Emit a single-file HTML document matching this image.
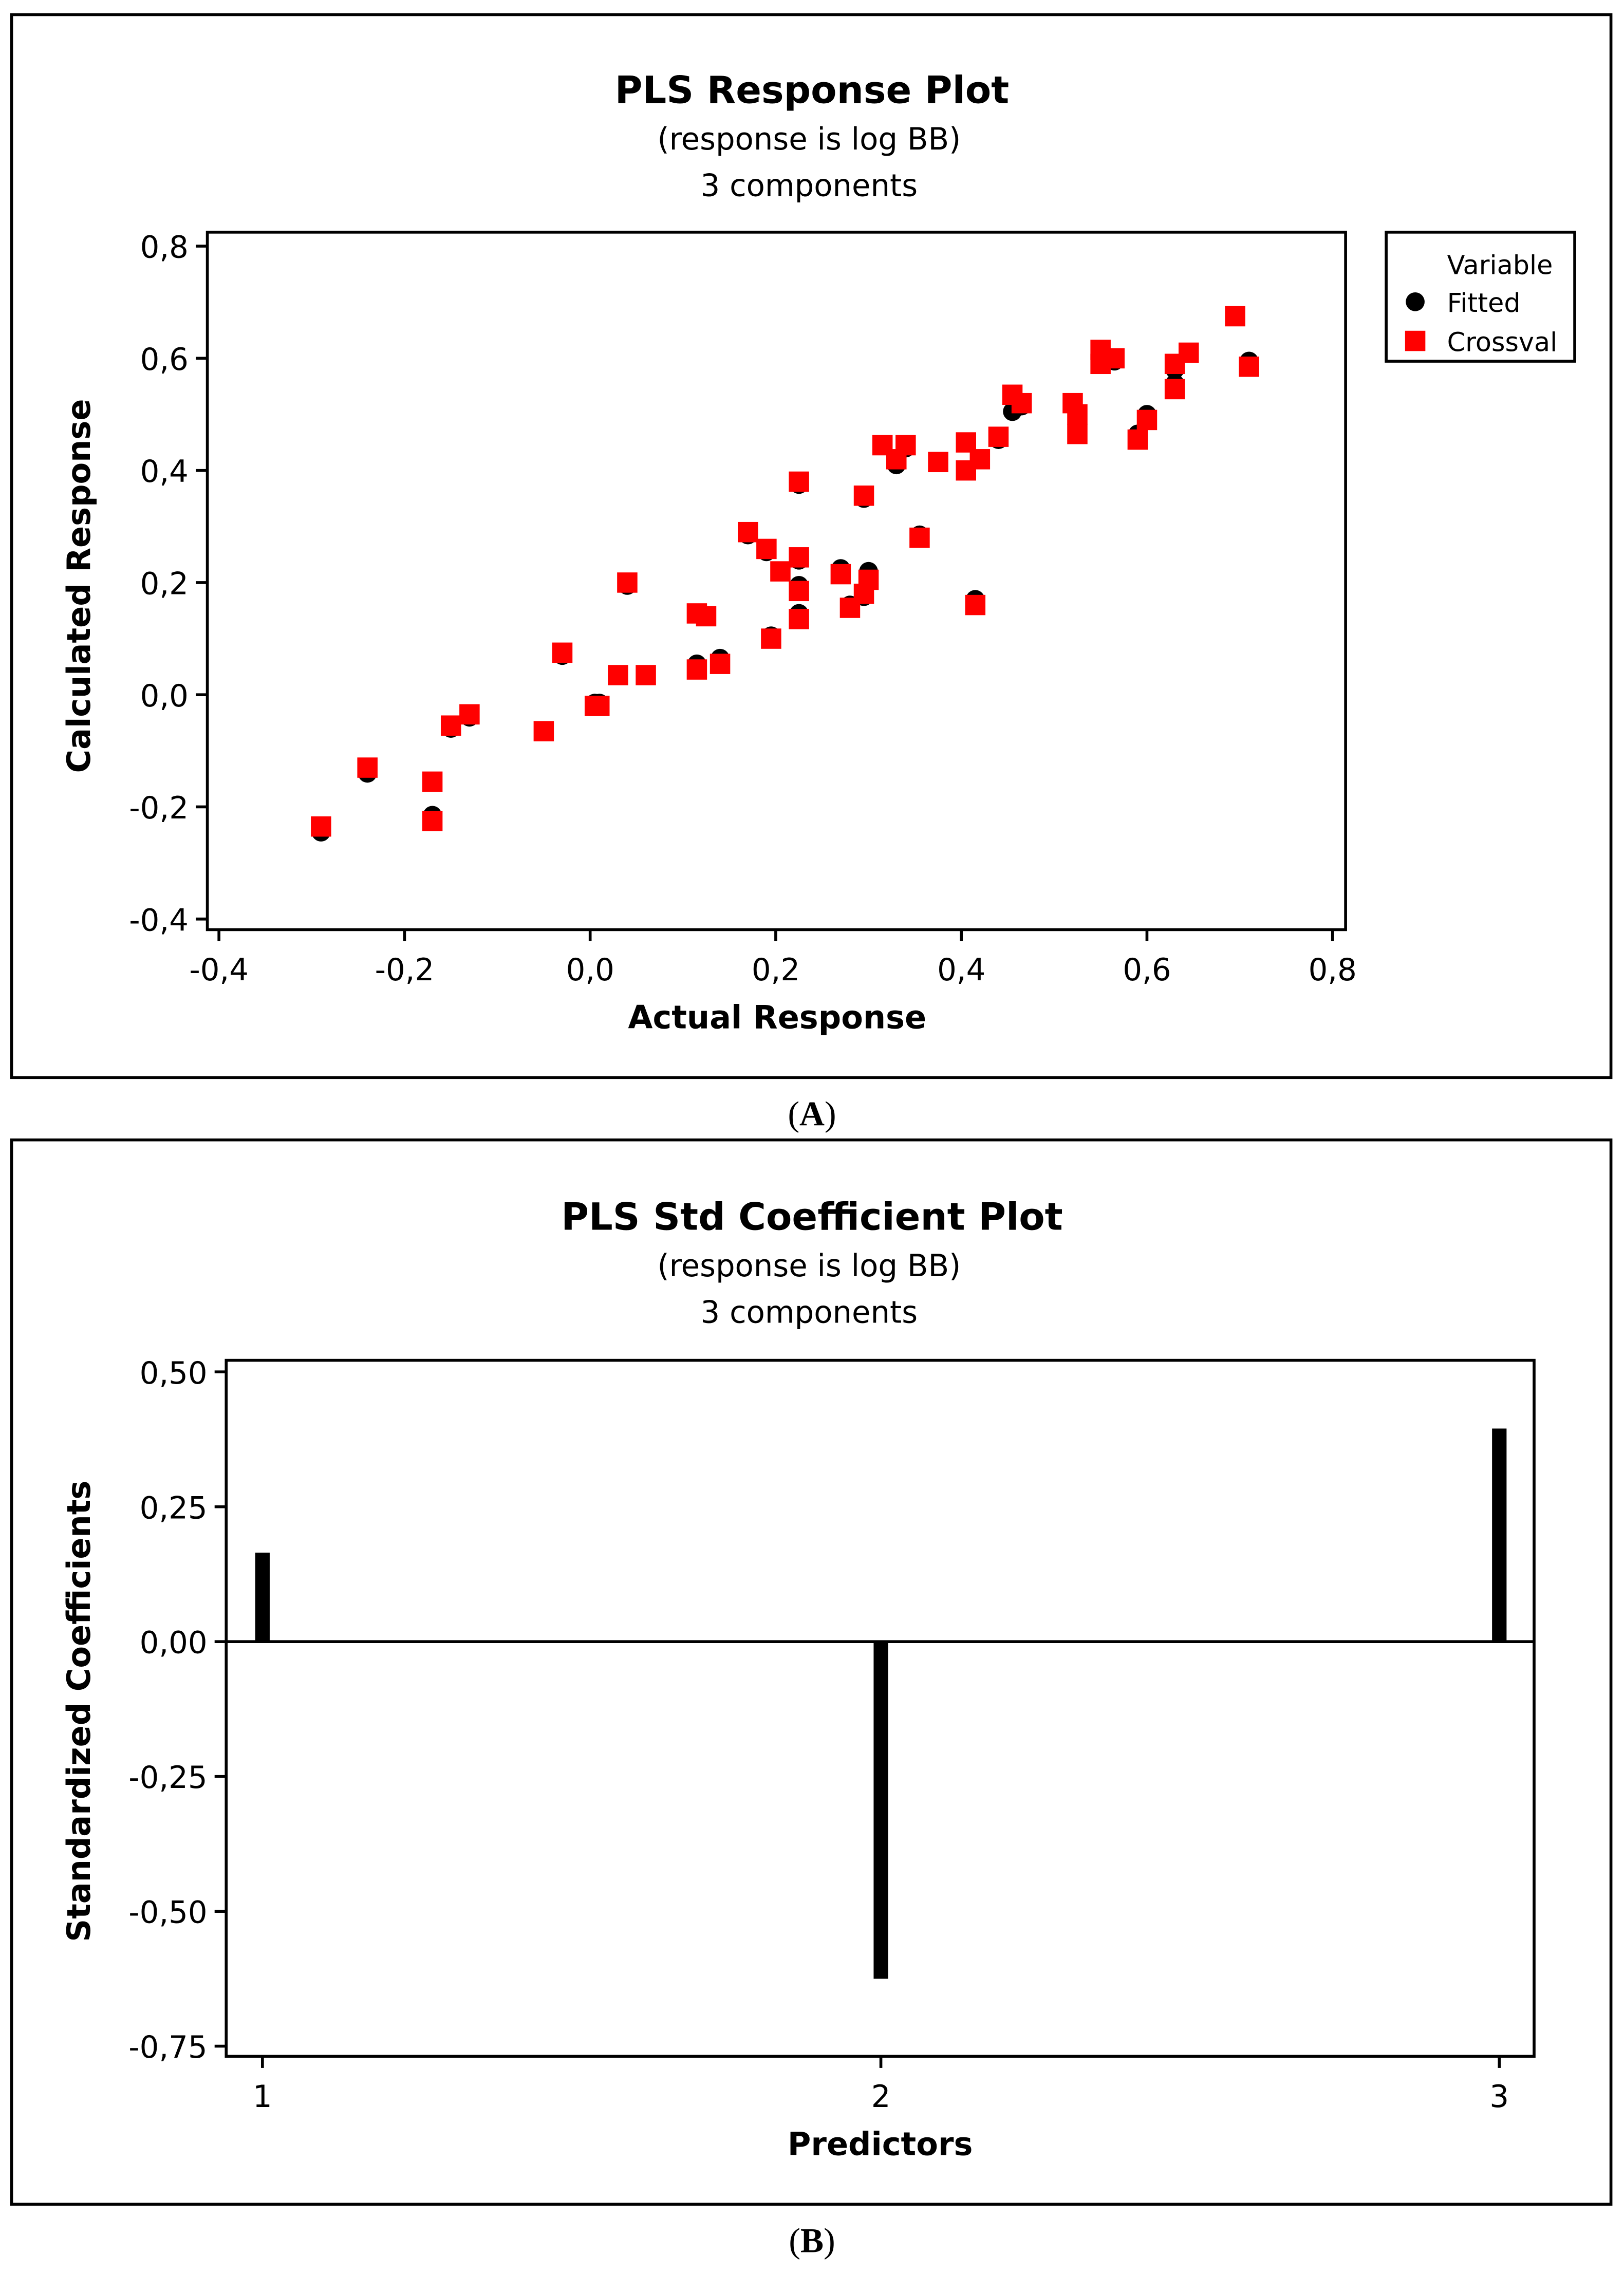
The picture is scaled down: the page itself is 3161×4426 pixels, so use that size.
<!DOCTYPE html>
<html><head><meta charset="utf-8"><style>
html,body{margin:0;padding:0;background:#fff}
svg{display:block}
text{font-family:"DejaVu Sans","Liberation Sans",sans-serif;fill:#000}
</style></head><body>
<svg id="fig" width="3161" height="4426" viewBox="0 0 1120 1568" xmlns="http://www.w3.org/2000/svg">
<rect x="0" y="0" width="1120" height="1568" fill="#fff"/>
<g id="panelA">
<rect x="8" y="10" width="1103" height="733" fill="none" stroke="#000" stroke-width="2"/>
<text x="560" y="71" text-anchor="middle" font-size="26" font-weight="bold">PLS Response Plot</text>
<text x="558" y="103" text-anchor="middle" font-size="21">(response is log BB)</text>
<text x="558" y="135" text-anchor="middle" font-size="21">3 components</text>
<rect x="143" y="160" width="785" height="481" fill="none" stroke="#000" stroke-width="2"/>
<g id="axA"></g>
<g id="ptsA"></g>
<text x="536" y="709" text-anchor="middle" font-size="22" font-weight="bold">Actual Response</text>
<text transform="translate(62,404) rotate(-90)" text-anchor="middle" font-size="22" font-weight="bold">Calculated Response</text>
<g>
<rect x="956" y="160" width="130" height="89" fill="#fff" stroke="#000" stroke-width="2"/>
<text x="998" y="189" font-size="18">Variable</text>
<circle cx="976" cy="208" r="6.5" fill="#000"/>
<text x="998" y="215" font-size="18">Fitted</text>
<rect x="969" y="228" width="14" height="14" fill="#f00"/>
<text x="998" y="242" font-size="18">Crossval</text>
</g>
</g>
<text x="560" y="776" text-anchor="middle" font-size="24" style="font-family:'Liberation Serif',serif">(<tspan font-weight="bold">A</tspan>)</text>
<g id="panelB">
<rect x="8" y="786" width="1103" height="734" fill="none" stroke="#000" stroke-width="2"/>
<text x="560" y="848" text-anchor="middle" font-size="26" font-weight="bold">PLS Std Coefficient Plot</text>
<text x="558" y="880" text-anchor="middle" font-size="21">(response is log BB)</text>
<text x="558" y="912" text-anchor="middle" font-size="21">3 components</text>
<rect x="156" y="938" width="902" height="480" fill="none" stroke="#000" stroke-width="2"/>
<g id="axB"></g>
<g id="barsB"></g>
<text x="607" y="1486" text-anchor="middle" font-size="22" font-weight="bold">Predictors</text>
<text transform="translate(62,1180) rotate(-90)" text-anchor="middle" font-size="22" font-weight="bold">Standardized Coefficients</text>
</g>
<text x="560" y="1553" text-anchor="middle" font-size="24" style="font-family:'Liberation Serif',serif">(<tspan font-weight="bold">B</tspan>)</text>
</svg>
<script>
const actual=[-0.29,-0.24,-0.17,-0.17,-0.15,-0.13,-0.05,-0.03,0.005,0.01,0.03,0.04,0.06,0.115,0.115,0.125,0.14,0.17,0.19,0.195,0.205,0.225,0.225,0.225,0.225,0.27,0.28,0.295,0.295,0.3,0.315,0.33,0.34,0.355,0.375,0.405,0.405,0.415,0.42,0.44,0.455,0.465,0.52,0.525,0.525,0.55,0.55,0.565,0.59,0.6,0.63,0.63,0.645,0.695,0.71];
const fitted=[-0.245,-0.14,-0.215,-0.155,-0.06,-0.04,-0.065,0.07,-0.015,-0.015,0.035,0.195,0.035,0.055,0.145,0.14,0.065,0.285,0.255,0.105,0.22,0.375,0.195,0.24,0.145,0.225,0.16,0.175,0.35,0.22,0.445,0.41,0.44,0.285,0.415,0.45,0.4,0.17,0.42,0.455,0.505,0.515,0.52,0.48,0.47,0.59,0.6,0.595,0.465,0.5,0.58,0.555,0.61,0.675,0.595];
const crossval=[-0.235,-0.13,-0.225,-0.155,-0.055,-0.035,-0.065,0.075,-0.02,-0.02,0.035,0.2,0.035,0.045,0.145,0.14,0.055,0.29,0.26,0.1,0.22,0.38,0.185,0.245,0.135,0.215,0.155,0.18,0.355,0.205,0.445,0.42,0.445,0.28,0.415,0.45,0.4,0.16,0.42,0.46,0.535,0.52,0.52,0.5,0.465,0.615,0.59,0.6,0.455,0.49,0.59,0.545,0.61,0.675,0.585];
const xTicksA=["-0,4","-0,2","0,0","0,2","0,4","0,6","0,8"];
const xTickValsA=[-0.4,-0.2,0,0.2,0.4,0.6,0.8];
const yTicksA=["0,8","0,6","0,4","0,2","0,0","-0,2","-0,4"];
const yTickValsA=[0.8,0.6,0.4,0.2,0,-0.2,-0.4];
const predictors=[1,2,3];
const coefs=[0.165,-0.625,0.395];
const yTicksB=["0,50","0,25","0,00","-0,25","-0,50","-0,75"];
const yTickValsB=[0.5,0.25,0,-0.25,-0.5,-0.75];
const NS="http://www.w3.org/2000/svg";
function mk(t,a,p){const e=document.createElementNS(NS,t);for(const k in a)e.setAttribute(k,a[k]);p.appendChild(e);return e;}
const xA=v=>407+v*640, yA=v=>479-v*386.7;
const xB=v=>181+(v-1)*426.5, yB=v=>1132-v*372;
const axA=document.getElementById('axA');
xTickValsA.forEach((v,i)=>{
 const l=mk('line',{x1:xA(v),x2:xA(v),y1:641,y2:649,stroke:'#000','stroke-width':2},axA);
 
 
 const t=mk('text',{x:xA(v),y:676,'text-anchor':'middle','font-size':21},axA);t.textContent=xTicksA[i];
 
 
});
yTickValsA.forEach((v,i)=>{
 const l=mk('line',{x1:135,x2:143,y1:yA(v),y2:yA(v),stroke:'#000','stroke-width':2},axA);
 
 
 const t=mk('text',{x:130,y:yA(v)+8,'text-anchor':'end','font-size':21},axA);t.textContent=yTicksA[i];
 
 
});
const ptsA=document.getElementById('ptsA');
actual.forEach((a,i)=>{
 const c=mk('circle',{cx:xA(a),cy:yA(fitted[i]),r:6.5,fill:'#000'},ptsA);
 
 
});
actual.forEach((a,i)=>{
 const r=mk('rect',{x:xA(a)-7,y:yA(crossval[i])-7,width:14,height:14,fill:'#f00'},ptsA);
 
 
});
const axB=document.getElementById('axB');
yTickValsB.forEach((v,i)=>{
 const l=mk('line',{x1:148,x2:156,y1:yB(v),y2:yB(v),stroke:'#000','stroke-width':2},axB);
 
 
 const t=mk('text',{x:143,y:yB(v)+8,'text-anchor':'end','font-size':21},axB);t.textContent=yTicksB[i];
 
 
});
predictors.forEach(p=>{
 const l=mk('line',{x1:xB(p),x2:xB(p),y1:1418,y2:1426,stroke:'#000','stroke-width':2},axB);
 
 
 const t=mk('text',{x:xB(p),y:1453,'text-anchor':'middle','font-size':21},axB);t.textContent=String(p);
 
 
});
const zl=mk('line',{x1:156,x2:1058,y1:yB(0),y2:yB(0),stroke:'#000','stroke-width':2},axB);


const barsB=document.getElementById('barsB');
predictors.forEach((p,i)=>{
 const v=coefs[i];
 const r=mk('rect',{x:xB(p)-5,y:Math.min(yB(0),yB(v)),width:10,height:Math.abs(yB(v)-yB(0)),fill:'#000'},barsB);
 
 
});
</script>
</body></html>
